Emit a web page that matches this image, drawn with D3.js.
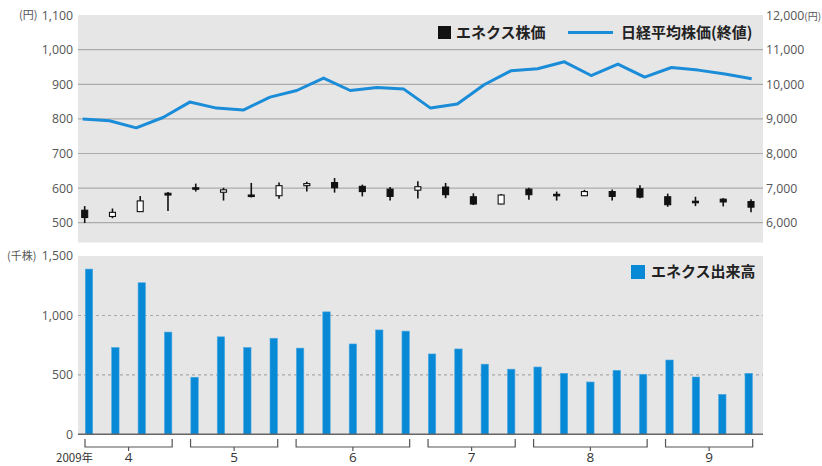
<!DOCTYPE html>
<html>
<head>
<meta charset='utf-8'>
<style>
body { margin: 0; background: #fff; }
text { font-family: 'Open Sans', 'Noto Sans CJK JP', sans-serif; }
.jp { font-family: 'Noto Sans CJK JP', sans-serif; }
.tick text { fill: #555; font-size: 12.3px; }
</style>
<script src='https://d3js.org/d3.v7.min.js'></script>
</head>
<body>
<svg id='chart' width='822' height='466'></svg>
<script>
// weekly data, Apr - Sep 2009
var volume = [1390, 730, 1275, 860, 480, 820, 730, 808, 725, 1030, 760, 878, 868,
  676, 718, 590, 548, 566, 513, 440, 538, 505, 625, 482, 336, 513];
var nikkei = [9000, 8945, 8742, 9040, 9486, 9312, 9254, 9630, 9821, 10179, 9821, 9908, 9861,
  9312, 9428, 9986, 10390, 10448, 10650, 10254, 10584, 10208, 10486, 10410, 10295, 10159];
var open  = [536, 518, 532, 585, 601, 588, 580, 578, 607, 616, 605, 597, 594, 603, 575, 554, 597, 582, 578, 590, 598, 575, 562, 568, 561];
var close = [515, 530, 563, 580, 599, 595, 576, 607, 613, 601, 590, 576, 604, 581, 554, 580, 581, 578, 590, 576, 574, 552, 560, 560, 545];
var high  = [548, 541, 577, 589, 613, 601, 615, 616, 618, 629, 610, 603, 620, 615, 585, 583, 601, 590, 595, 596, 608, 584, 575, 571, 568];
var low   = [499, 513, 531, 534, 590, 564, 573, 569, 590, 587, 576, 564, 570, 571, 551, 553, 566, 564, 577, 564, 571, 546, 548, 547, 530];
var months = ['4', '5', '6', '7', '8', '9'];
var weeksPerMonth = [4, 4, 5, 4, 5, 4];
var priceTicks = [500, 600, 700, 800, 900, 1000, 1100];
var nikkeiTicks = [6000, 7000, 8000, 9000, 10000, 11000, 12000];
var volumeTicks = [0, 500, 1000, 1500];

var svg = d3.select('#chart');
var left = 78, right = 763;
var fmt = d3.format(',');

// scales
var xBar = d3.scalePoint().domain(d3.range(volume.length)).range([89, 748.7]);
var xLine = d3.scalePoint().domain(d3.range(nikkei.length)).range([82.7, 751.7]);
var xCandle = d3.scalePoint().domain(d3.range(open.length)).range([84.7, 751]);
var yL = d3.scaleLinear().domain([500, 1100]).range([222.7, 15.1]);
var yR = d3.scaleLinear().domain([6000, 12000]).range([222.7, 15.1]);
var yV = d3.scaleLinear().domain([0, 1500]).range([434.3, 256]);

// ---- top panel
svg.append('rect').attr('x', left).attr('y', 15).attr('width', right - left).attr('height', 227.5).attr('fill', '#e6e6e6');

svg.append('g').selectAll('line').data(priceTicks.slice(0, -1)).join('line')
  .attr('x1', left).attr('x2', right)
  .attr('y1', function(d) { return yL(d); }).attr('y2', function(d) { return yL(d); })
  .attr('stroke', '#ababab').attr('stroke-width', 1.2);

var axL = svg.append('g').attr('transform', 'translate(' + left + ',0)')
  .call(d3.axisLeft(yL).tickValues(priceTicks).tickSize(0).tickPadding(5).tickFormat(fmt));
axL.select('.domain').remove();

var axR = svg.append('g').attr('transform', 'translate(' + right + ',0)')
  .call(d3.axisRight(yR).tickValues(nikkeiTicks).tickSize(0).tickPadding(3).tickFormat(fmt));
axR.select('.domain').remove();
axR.selectAll('.tick text').filter(function(d) { return d === 12000; })
  .append('tspan').attr('class', 'jp').attr('font-size', 10).text('(円)');

svg.append('text').attr('class', 'jp').attr('x', 19).attr('y', yL(1100)).attr('dy', '0.32em')
  .attr('fill', '#555').attr('font-size', 11).text('(円)');

// nikkei line
svg.append('path').datum(nikkei)
  .attr('fill', 'none').attr('stroke', '#1a8cd8').attr('stroke-width', 3).attr('stroke-linejoin', 'round')
  .attr('d', d3.line().x(function(d, i) { return xLine(i); }).y(function(d) { return yR(d); }));

// candles
var cg = svg.append('g').selectAll('g').data(open).join('g');
cg.append('line')
  .attr('x1', function(d, i) { return xCandle(i); }).attr('x2', function(d, i) { return xCandle(i); })
  .attr('y1', function(d, i) { return yL(high[i]); }).attr('y2', function(d, i) { return yL(low[i]); })
  .attr('stroke', '#111').attr('stroke-width', 1.6);
cg.append('rect')
  .attr('x', function(d, i) { return xCandle(i) - 3; }).attr('width', 6)
  .attr('y', function(d, i) { return yL(Math.max(open[i], close[i])); })
  .attr('height', function(d, i) { return Math.max(1.5, Math.abs(yL(open[i]) - yL(close[i]))); })
  .attr('fill', function(d, i) { return close[i] < open[i] ? '#111' : '#fff'; })
  .attr('stroke', '#111').attr('stroke-width', 1.1);

// legend top
svg.append('rect').attr('x', 438).attr('y', 26).attr('width', 13).attr('height', 13).attr('fill', '#111');
svg.append('text').attr('class', 'jp').attr('x', 456).attr('y', 33).attr('dy', '0.36em')
  .attr('font-size', 15).attr('font-weight', 700).attr('fill', '#222').text('エネクス株価');
svg.append('line').attr('x1', 568).attr('x2', 613).attr('y1', 32.5).attr('y2', 32.5)
  .attr('stroke', '#1a8cd8').attr('stroke-width', 3);
svg.append('text').attr('class', 'jp').attr('x', 621).attr('y', 33).attr('dy', '0.36em')
  .attr('font-size', 15).attr('font-weight', 700).attr('fill', '#222').text('日経平均株価(終値)');

// ---- bottom panel
svg.append('rect').attr('x', left).attr('y', 256).attr('width', right - left).attr('height', 434.3 - 256).attr('fill', '#e6e6e6');

svg.append('g').selectAll('line').data([500, 1000]).join('line')
  .attr('x1', left).attr('x2', right)
  .attr('y1', function(d) { return yV(d); }).attr('y2', function(d) { return yV(d); })
  .attr('stroke', '#a8a8a8').attr('stroke-width', 1.1).attr('stroke-dasharray', '3,3');

var axV = svg.append('g').attr('transform', 'translate(' + left + ',0)')
  .call(d3.axisLeft(yV).tickValues(volumeTicks).tickSize(0).tickPadding(5).tickFormat(fmt));
axV.select('.domain').remove();

svg.append('text').attr('class', 'jp').attr('x', 7).attr('y', yV(1500)).attr('dy', '0.32em')
  .attr('fill', '#555').attr('font-size', 11).text('(千株)');

svg.append('g').selectAll('rect').data(volume).join('rect')
  .attr('x', function(d, i) { return xBar(i) - 3.7; }).attr('width', 7.4)
  .attr('y', function(d) { return yV(d); })
  .attr('height', function(d) { return yV(0) - yV(d); })
  .attr('fill', '#0889d6').attr('stroke', '#4aa8e2').attr('stroke-width', 0.6);

svg.append('line').attr('x1', left).attr('x2', right).attr('y1', yV(0)).attr('y2', yV(0))
  .attr('stroke', '#666').attr('stroke-width', 1.5);

// month brackets
var start = 0;
months.forEach(function(m, k) {
  var x0 = xBar(start) - 4, x1 = xBar(start + weeksPerMonth[k] - 1) + 4;
  var xm = (x0 + x1) / 2;
  svg.append('path')
    .attr('d', 'M' + x0 + ',439V447H' + x1 + 'V439M' + xm + ',447V451')
    .attr('fill', 'none').attr('stroke', '#555').attr('stroke-width', 1.2);
  svg.append('text').attr('x', xm).attr('y', 461.5).attr('text-anchor', 'middle')
    .attr('font-size', 13.5).attr('fill', '#333').text(m);
  start += weeksPerMonth[k];
});
svg.append('text').attr('class', 'jp').attr('x', 56).attr('y', 462)
  .attr('font-size', 11.5).attr('fill', '#333').text('2009年');

// legend bottom
svg.append('rect').attr('x', 631).attr('y', 265).attr('width', 14).attr('height', 14).attr('fill', '#0889d6');
svg.append('text').attr('class', 'jp').attr('x', 651).attr('y', 272).attr('dy', '0.36em')
  .attr('font-size', 15).attr('font-weight', 700).attr('fill', '#222').text('エネクス出来高');
</script>
</body>
</html>
